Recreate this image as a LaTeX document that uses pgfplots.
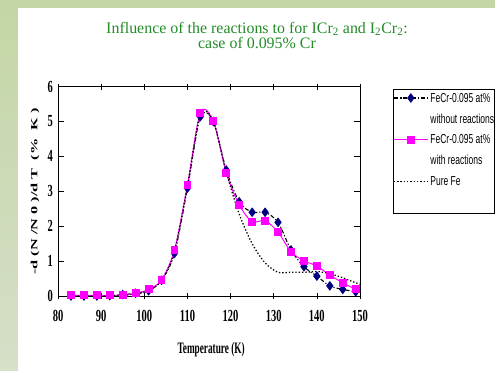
\documentclass[border=0pt]{standalone}
\usepackage{fontspec}
\setmainfont{Liberation Serif}
\usepackage{pgfplots}
\pgfplotsset{compat=1.18}
\newfontfamily\tickf[FakeStretch=0.62]{Liberation Serif Bold}
\newfontfamily\labf[FakeStretch=0.58]{Liberation Serif Bold}
\newfontfamily\ylabf[FakeStretch=1.72]{Liberation Serif Bold}
\newfontfamily\legf[FakeStretch=0.655]{Liberation Sans}
\definecolor{bggreen}{RGB}{196,214,166}
\definecolor{bglight}{RGB}{214,223,200}
\definecolor{titlegreen}{RGB}{34,140,40}
\definecolor{navyd}{RGB}{0,0,128}
\definecolor{mag}{RGB}{255,0,255}
\begin{document}
\begin{tikzpicture}[x=1bp,y=1bp]
\begin{scope}
\clip (0,0) rectangle (495,370);
\fill[bggreen] (0,0) rectangle (495,370);
\shade[top color=bggreen,bottom color=bglight] (0,0) rectangle (18,362);
\fill[white] (18,0) rectangle (495,362);
\node[anchor=base, text=titlegreen, font=\fontsize{16}{16}\selectfont, inner sep=0pt] at (257,337) {Influence of the reactions to for ICr\textsubscript{2} and I\textsubscript{2}Cr\textsubscript{2}:};
\node[anchor=base, text=titlegreen, font=\fontsize{16}{16}\selectfont, inner sep=0pt] at (257,322) {case of 0.095\% Cr};
\begin{axis}[
  at={(58bp,74bp)}, anchor=south west,
  width=302bp, height=209.4bp, scale only axis,
  xmin=80, xmax=150, ymin=0, ymax=6,
  xtick={80,90,...,150}, ytick={0,1,...,6},
  /pgf/number format/assume math mode=true,
  ticklabel style={font=\tickf\fontsize{17}{17}\selectfont},
  xtick style={black, line width=0.7pt},
  ytick style={black, line width=0.7pt},
  x tick style={/pgfplots/tick align=center},
  major tick length=6bp,
  xticklabel style={inner sep=0pt, anchor=north, yshift=-14bp},
  yticklabel style={inner sep=0pt, anchor=east, xshift=-5bp},
  axis line style={black, line width=0.7pt},
  xlabel={Temperature (K)},
  xlabel style={font=\labf\fontsize{16}{16}\selectfont, at={(axis description cs:0.507,-0.258)}, anchor=center},
  ylabel={-d (N /N 0 )/d T\ \ (\%\ \ K )},
  ylabel style={font=\ylabf\fontsize{9.5}{9.5}\selectfont, at={(axis description cs:-0.076,0.499)}, anchor=center},
  legend cell align=left,
  legend image code/.code={\draw[mark repeat=2,mark phase=2,#1] plot coordinates {(0bp,1bp) (17bp,1bp) (34bp,1bp)};},
  legend style={at={(axis description cs:1.109,0.9885)}, anchor=north west, draw=black, line width=0.5pt,
    inner xsep=0pt, inner ysep=3.5bp, font=\legf\fontsize{13}{13}\selectfont, row sep=8.3bp,
    nodes={inner sep=0pt, text height=9.5bp, text depth=3bp},
    /tikz/every odd column/.append style={column sep=2bp}},
]
\addplot[black, line width=1.1pt, dash pattern=on 4bp off 2bp on 1.2bp off 2bp, smooth, tension=0.5,
  mark=diamond*, mark size=4bp, mark options={solid, fill=navyd, draw=navyd}] coordinates {
(83,0.00) (86,0.00) (89,0.00) (92,0.01) (95,0.04) (98,0.08) (101,0.15) (104,0.45) (107,1.22) (110,3.09)
(113,5.14) (116,5.00) (119,3.61) (122,2.70) (125,2.40) (128,2.40) (131,2.11) (134,1.32) (137,0.84)
(140,0.57) (143,0.29) (146,0.19) (149,0.12)};
\addlegendentry{FeCr-0.095 at\%}
\addlegendimage{empty legend}
\addlegendentry{without reactions}
\addplot[mag, line width=1pt, smooth, tension=0.5,
  mark=square*, mark size=3.4bp, mark options={solid, fill=mag, draw=mag}] coordinates {
(83,0.02) (86,0.02) (89,0.02) (92,0.02) (95,0.02) (98,0.08) (101,0.19) (104,0.46) (107,1.32) (110,3.18)
(113,5.25) (116,5.01) (119,3.53) (122,2.61) (125,2.13) (128,2.16) (131,1.83) (134,1.27) (137,1.01)
(140,0.86) (143,0.60) (146,0.38) (149,0.19)};
\addlegendentry{FeCr-0.095 at\%}
\addlegendimage{empty legend}
\addlegendentry{with reactions}
\addplot[black, line width=1.3pt, dash pattern=on 1.3bp off 2bp, smooth, tension=0.5] coordinates {
(83,0.00) (86,0.00) (89,0.00) (92,0.00) (95,0.02) (98,0.06) (101,0.15) (104,0.45) (107,1.28) (110,3.15)
(113,5.20) (116,5.00) (119,3.55) (122,2.35) (125,1.50) (128,0.95) (131,0.68) (134,0.68) (137,0.68)
(140,0.70) (143,0.64) (146,0.52) (149,0.38) (150,0.34)};
\addlegendentry{Pure Fe}
\addlegendimage{empty legend}
\addlegendentry{}
\end{axis}
\end{scope}
\pgfresetboundingbox
\useasboundingbox (0,0) rectangle (495,370);
\end{tikzpicture}
\end{document}
